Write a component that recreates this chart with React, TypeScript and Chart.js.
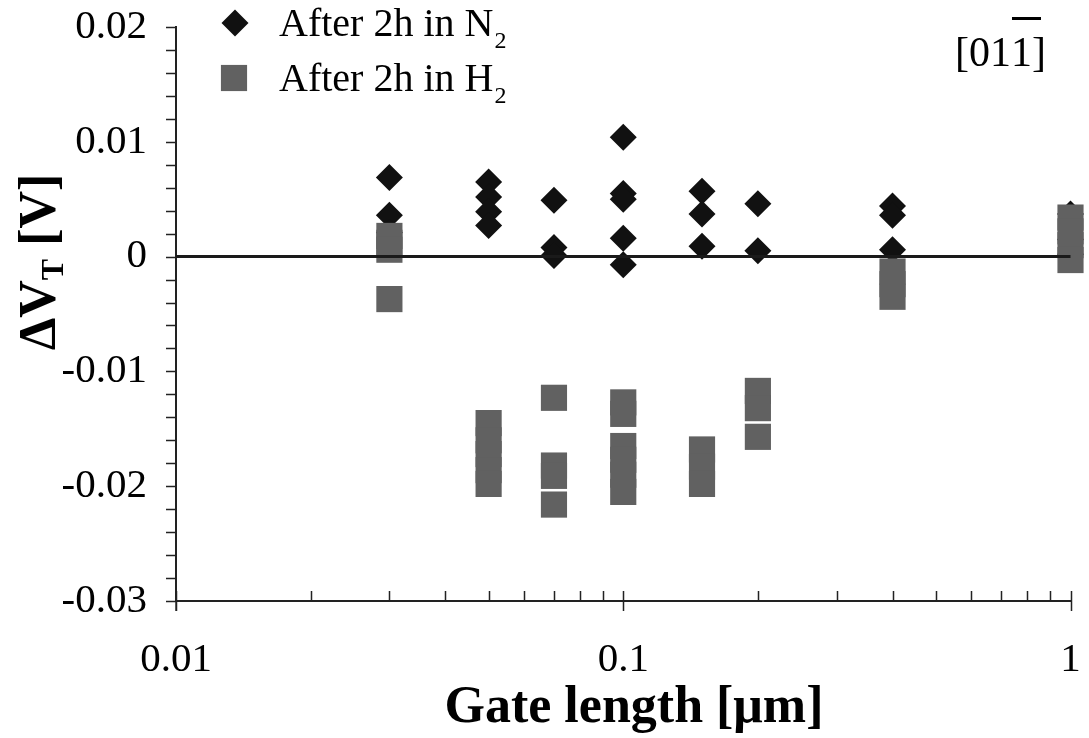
import React, { useEffect, useRef } from 'react';
import { Chart, registerables } from 'chart.js';

Chart.register(...registerables);

// ---------- data ----------
const gateLengths = [0.03, 0.05, 0.07, 0.1, 0.15, 0.2, 0.4, 1];

const n2Values = [
  [0.0069, 0.0036, 0.0021],
  [0.0065, 0.0052, 0.0039, 0.0027],
  [0.0049, 0.0008, 0.0001],
  [0.0104, 0.0055, 0.005, 0.0016, -0.0007],
  [0.0057, 0.0037, 0.0009],
  [0.0046, 0.0005],
  [0.0044, 0.0036, 0.0006],
  [0.0037, 0.0015, 0.0002],
];

const h2Values = [
  [0.0018, 0.0012, 0.0006, -0.0037],
  [-0.0145, -0.016, -0.0172, -0.0186, -0.0198],
  [-0.0123, -0.0182, -0.0191, -0.0216],
  [-0.0127, -0.0137, -0.0165, -0.0177, -0.019, -0.0205],
  [-0.0168, -0.0183, -0.0198],
  [-0.0117, -0.0132, -0.0157],
  [-0.0013, -0.0024, -0.0035],
  [0.0034, 0.0022, 0.001, -0.0003],
];

const zeroLineX = [0.01, 1];
const zeroLineY = [0, 0];

const seriesLabels = ['After 2h in N', 'After 2h in H'];
const seriesSubscripts = ['2', '2'];

const xTickValues = [0.01, 0.1, 1];
const xTickLabels = ['0.01', '0.1', '1'];
const xMinorValues = [0.02, 0.03, 0.04, 0.05, 0.06, 0.07, 0.08, 0.09, 0.2, 0.3, 0.4, 0.5, 0.6, 0.7, 0.8, 0.9];

const yTickValues = [-0.03, -0.02, -0.01, 0, 0.01, 0.02];
const yTickLabels = ['-0.03', '-0.02', '-0.01', '0', '0.01', '0.02'];
const yMinorValues = [
  -0.028, -0.026, -0.024, -0.022, -0.018, -0.016, -0.014, -0.012, -0.008, -0.006, -0.004, -0.002,
  0.002, 0.004, 0.006, 0.008, 0.012, 0.014, 0.016, 0.018,
];

const xTitle = 'Gate length [μm]';
const yTitleMain = 'ΔV';
const yTitleSub = 'T';
const yTitleRest = ' [V]';
const directionParts = ['[01', '1', ']'];

// ---------- styles ----------
const SERIF = "'Liberation Serif', 'Times New Roman', serif";
const AXIS_COLOR = '#222222';
const DIAMOND_COLOR = '#111111';
const SQUARE_COLOR = '#616161';
const DIAMOND_RADIUS = 13.5;
const SQUARE_RADIUS = 18.5;

const n2Points = gateLengths.flatMap((g, i) => n2Values[i].map((v) => ({ x: g, y: v })));
const h2Points = gateLengths.flatMap((g, i) => h2Values[i].map((v) => ({ x: g, y: v })));
const zeroLine = zeroLineX.map((x, i) => ({ x, y: zeroLineY[i] }));

function drawRich(ctx: CanvasRenderingContext2D, x: number, y: number, main: string, sub: string, mainFont: string, subFont: string, subDy: number) {
  ctx.font = mainFont;
  ctx.fillText(main, x, y);
  const w = ctx.measureText(main).width;
  ctx.font = subFont;
  ctx.fillText(sub, x + w + 1, y + subDy);
}

const decorPlugin = {
  id: 'decor',
  afterDraw(chart: any) {
    const { ctx, chartArea } = chart;
    const xs = chart.scales.x;
    const ys = chart.scales.y;
    ctx.save();
    // tick marks
    ctx.strokeStyle = AXIS_COLOR;
    ctx.lineWidth = 1.5;
    ctx.beginPath();
    const left = chartArea.left;
    const bottom = chartArea.bottom;
    [...yTickValues, ...yMinorValues].forEach((v) => {
      const py = Math.round(ys.getPixelForValue(v)) + 0.5;
      ctx.moveTo(left - 10, py);
      ctx.lineTo(left, py);
    });
    xMinorValues.forEach((v) => {
      const px = Math.round(xs.getPixelForValue(v)) + 0.5;
      ctx.moveTo(px, bottom - 10);
      ctx.lineTo(px, bottom);
    });
    xTickValues.forEach((v) => {
      const px = Math.round(xs.getPixelForValue(v)) + 0.5;
      ctx.moveTo(px, bottom - 10);
      ctx.lineTo(px, bottom + 10);
    });
    ctx.moveTo(left, bottom);
    ctx.lineTo(left, bottom + 10);
    ctx.stroke();

    ctx.fillStyle = '#000';
    ctx.textBaseline = 'alphabetic';
    ctx.textAlign = 'left';

    // legend
    const mainFont = `40px ${SERIF}`;
    const subFont = `24px ${SERIF}`;
    ctx.fillStyle = DIAMOND_COLOR;
    ctx.beginPath();
    const dx = 235, dy = 23;
    ctx.moveTo(dx, dy - DIAMOND_RADIUS);
    ctx.lineTo(dx + DIAMOND_RADIUS, dy);
    ctx.lineTo(dx, dy + DIAMOND_RADIUS);
    ctx.lineTo(dx - DIAMOND_RADIUS, dy);
    ctx.closePath();
    ctx.fill();
    ctx.fillStyle = SQUARE_COLOR;
    const s = SQUARE_RADIUS * Math.SQRT1_2;
    ctx.fillRect(234 - s, 78 - s, 2 * s, 2 * s);
    ctx.fillStyle = '#000';
    drawRich(ctx, 279, 36, seriesLabels[0], seriesSubscripts[0], mainFont, subFont, 12);
    drawRich(ctx, 279, 91, seriesLabels[1], seriesSubscripts[1], mainFont, subFont, 12);

    // direction annotation
    ctx.font = `42px ${SERIF}`;
    let ax = 955;
    const ay = 66;
    ctx.fillText(directionParts[0], ax, ay);
    ax += ctx.measureText(directionParts[0]).width;
    const w1 = ctx.measureText(directionParts[1]).width;
    ctx.fillText(directionParts[1], ax, ay);
    ctx.fillRect(ax + 1, 17, w1 + 8, 3);
    ax += w1;
    ctx.fillText(directionParts[2], ax, ay);

    // x title
    ctx.font = `bold 52px ${SERIF}`;
    ctx.textAlign = 'center';
    ctx.fillText(xTitle, 634, 722);

    // y title (rotated)
    ctx.translate(55, 262);
    ctx.rotate(-Math.PI / 2);
    ctx.textAlign = 'left';
    const bigFont = `bold 52px ${SERIF}`;
    const smallFont = `bold 32px ${SERIF}`;
    ctx.font = bigFont;
    const wa = ctx.measureText(yTitleMain).width;
    const wc = ctx.measureText(yTitleRest).width;
    ctx.font = smallFont;
    const wb = ctx.measureText(yTitleSub).width;
    let tx = -(wa + wb + wc) / 2;
    ctx.font = bigFont;
    ctx.fillText(yTitleMain, tx, 0);
    tx += wa;
    ctx.font = smallFont;
    ctx.fillText(yTitleSub, tx, 8);
    tx += wb;
    ctx.font = bigFont;
    ctx.fillText(yTitleRest, tx, 0);
    ctx.restore();
  },
};

export default function App() {
  const ref = useRef<HTMLCanvasElement>(null);
  useEffect(() => {
    const canvas = ref.current;
    if (!canvas) return;
    const chart = new Chart(canvas, {
      type: 'scatter',
      data: {
        datasets: [
          {
            label: 'zero',
            data: zeroLine,
            showLine: true,
            borderColor: '#1a1a1a',
            borderWidth: 3,
            pointRadius: 0,
            order: 0,
            clip: false,
          } as any,
          {
            label: seriesLabels[1] + seriesSubscripts[1],
            data: h2Points,
            pointStyle: 'rect',
            pointRadius: SQUARE_RADIUS,
            backgroundColor: SQUARE_COLOR,
            borderWidth: 0,
            order: 1,
            clip: false,
          } as any,
          {
            label: seriesLabels[0] + seriesSubscripts[0],
            data: n2Points,
            pointStyle: 'rectRot',
            pointRadius: DIAMOND_RADIUS,
            backgroundColor: DIAMOND_COLOR,
            borderWidth: 0,
            order: 2,
            clip: false,
          } as any,
        ],
      },
      plugins: [decorPlugin],
      options: {
        responsive: false,
        animation: false,
        devicePixelRatio: 1,
        layout: { padding: { top: 27, right: 12, left: 0, bottom: 0 } },
        plugins: { legend: { display: false }, tooltip: { enabled: false } },
        scales: {
          x: {
            type: 'logarithmic',
            min: 0.01,
            max: 1,
            afterBuildTicks: (scale: any) => {
              scale.ticks = xTickValues.map((v) => ({ value: v }));
            },
            afterFit: (scale: any) => {
              scale.height = 137;
              scale.paddingLeft = 0;
              scale.paddingRight = 0;
            },
            grid: { display: false, drawTicks: false, tickLength: 0 },
            border: { display: true, color: AXIS_COLOR, width: 2 },
            ticks: {
              autoSkip: false,
              maxRotation: 0,
              padding: 35,
              color: '#000',
              font: { family: SERIF, size: 41 },
              callback: (_v: any, i: number) => xTickLabels[i],
            },
          },
          y: {
            type: 'linear',
            min: -0.03,
            max: 0.02,
            afterBuildTicks: (scale: any) => {
              scale.ticks = yTickValues.map((v) => ({ value: v }));
            },
            afterFit: (scale: any) => {
              scale.width = 176;
              scale.paddingTop = 0;
              scale.paddingBottom = 0;
            },
            grid: { display: false, drawTicks: false, tickLength: 0 },
            border: { display: true, color: AXIS_COLOR, width: 2 },
            ticks: {
              autoSkip: false,
              padding: 29,
              color: '#000',
              font: { family: SERIF, size: 41 },
              callback: (_v: any, i: number) => yTickLabels[i],
            },
          },
        },
      } as any,
    });
    return () => chart.destroy();
  }, []);
  return (
    <div style={{ position: 'absolute', left: 0, top: 0, width: 1089, height: 738, background: '#fff' }}>
      <canvas ref={ref} width={1089} height={738} style={{ display: 'block' }} />
    </div>
  );
}
